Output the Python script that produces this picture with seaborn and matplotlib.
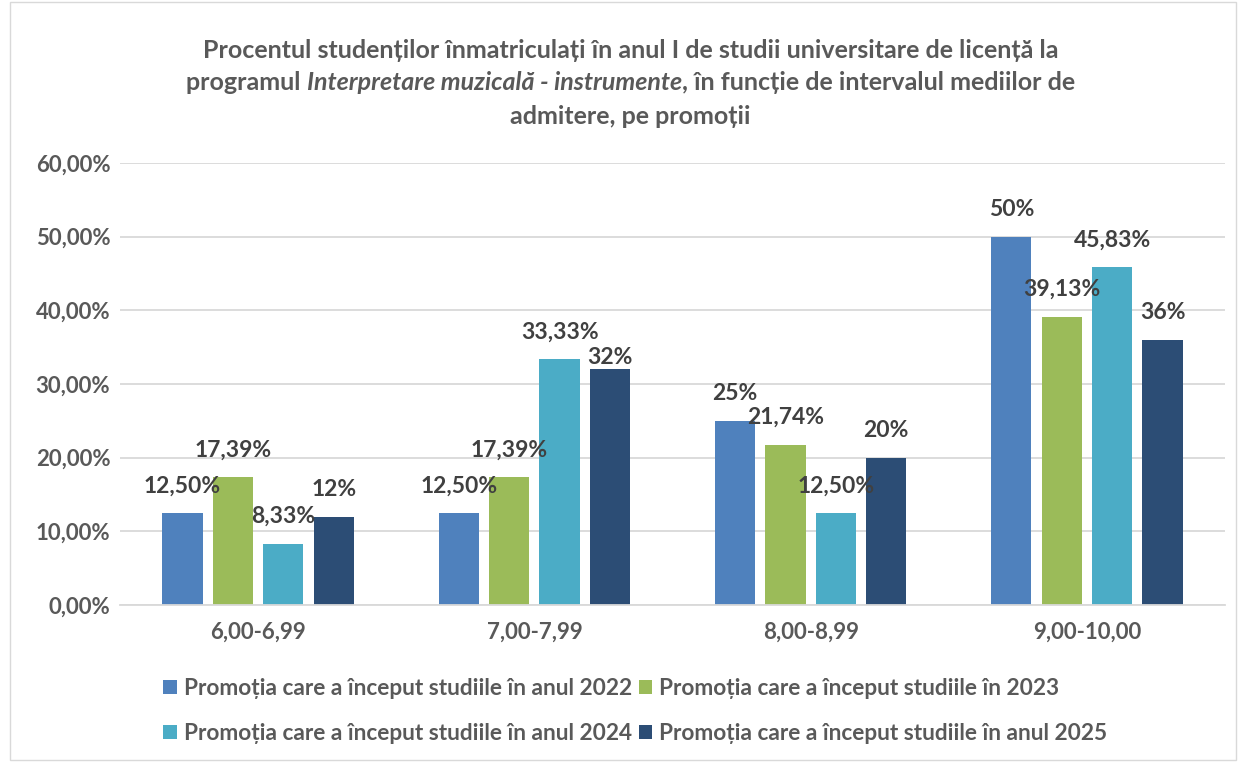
import numpy as np
import pandas as pd
import matplotlib
matplotlib.use('Agg')
import matplotlib.pyplot as plt
import seaborn as sns
from matplotlib.patches import Rectangle

categories = ['6,00-6,99', '7,00-7,99', '8,00-8,99', '9,00-10,00']
series = ['Promoția care a început studiile în anul 2022',
          'Promoția care a început studiile în 2023',
          'Promoția care a început studiile în anul 2024',
          'Promoția care a început studiile în anul 2025']
v2022 = [12.50, 12.50, 25.00, 50.00]
v2023 = [17.39, 17.39, 21.74, 39.13]
v2024 = [8.33, 33.33, 12.50, 45.83]
v2025 = [12.00, 32.00, 20.00, 36.00]
labels2022 = ['12,50%', '12,50%', '25%', '50%']
labels2023 = ['17,39%', '17,39%', '21,74%', '39,13%']
labels2024 = ['8,33%', '33,33%', '12,50%', '45,83%']
labels2025 = ['12%', '32%', '20%', '36%']
colors = ['#4F81BD', '#9BBB59', '#4BACC6', '#2C4D75']

rows = []
for s, vals in zip(series, [v2022, v2023, v2024, v2025]):
    for c, v in zip(categories, vals):
        rows.append({'Interval': c, 'Promotia': s, 'Procent': v})
df = pd.DataFrame(rows)

sns.set_style('white')
fam = ['Lato', 'DejaVu Sans']
plt.rcParams['font.family'] = fam
text_col = '#595959'

fig = plt.figure(figsize=(12.41, 7.62), dpi=100)
ax = fig.add_axes([120/1241, 1-605/762, 1105/1241, 442/762])

sns.barplot(data=df, x='Interval', y='Procent', hue='Promotia',
            order=categories, hue_order=series, palette=colors,
            width=0.73, gap=0.2, ax=ax, legend=True, saturation=1, linewidth=0)

ax.set_ylim(0, 60)
ax.set_xlim(-0.5, 3.5)
ax.set_yticks(np.arange(0, 61, 10))
ax.set_yticklabels([f'{t:.2f}%'.replace('.', ',') for t in np.arange(0, 61, 10)],
                   fontsize=16, fontweight='bold', color=text_col)
ax.set_xticklabels(categories, fontsize=16, fontweight='bold', color=text_col)
ax.tick_params(axis='y', length=0, pad=7)
ax.tick_params(axis='x', length=0, pad=12)
ax.set_xlabel('')
ax.set_ylabel('')
ax.yaxis.grid(True, color='#D9D9D9', linewidth=1.3)
ax.set_axisbelow(True)
for sp in ['top', 'right', 'left']:
    ax.spines[sp].set_visible(False)
ax.spines['bottom'].set_color('#D9D9D9')
ax.spines['bottom'].set_linewidth(1.3)

all_labels = [labels2022, labels2023, labels2024, labels2025]
for i, (cont, labs) in enumerate(zip(ax.containers, all_labels)):
    txts = ax.bar_label(cont, labels=labs, padding=12, fontsize=16.5, fontweight='bold',
                        color='#404040')
    if i == 3:
        # Excel pushed this label down to avoid 33,33%
        txts[1].xyann = (0, 1)

handles, _ = ax.get_legend_handles_labels()
ax.get_legend().remove()
order = [0, 2, 1, 3]
fig.legend([handles[k] for k in order], [series[k] for k in order], loc='center',
           bbox_to_anchor=(0.512, 1-711/762), ncol=2,
           frameon=False, prop={'size': 16.3, 'weight': 'bold', 'family': fam},
           labelcolor=text_col, handlelength=0.6, handleheight=0.6,
           handletextpad=0.3, columnspacing=0.3, labelspacing=1.05)

# title with italic program name
tsize = 18
fig.text(0.508, 1-50/762, 'Procentul studenților înmatriculați în anul I de studii universitare de licență la',
         ha='center', va='center', fontsize=tsize, fontweight='bold', color=text_col)
parts = [('programul ', 'normal'), ('Interpretare muzicală - instrumente', 'italic'),
         (', în funcție de intervalul mediilor de', 'normal')]
renderer = fig.canvas.get_renderer()
objs = []
for txt, st in parts:
    t = fig.text(0, 1-83/762, txt, ha='left', va='center', fontsize=tsize,
                 fontweight='bold', style=st, color=text_col)
    objs.append(t)
widths = [o.get_window_extent(renderer).width / fig.bbox.width for o in objs]
x = 0.508 - sum(widths) / 2
for o, w in zip(objs, widths):
    o.set_x(x)
    x += w
fig.text(0.508, 1-116/762, 'admitere, pe promoții', ha='center', va='center',
         fontsize=tsize, fontweight='bold', color=text_col)

fig.patches.append(Rectangle((10/1241, 2/762), 1226/1241, 758/762, transform=fig.transFigure,
                             fill=False, edgecolor='#D9D9D9', linewidth=1))

fig.savefig('out.png', dpi=100)
